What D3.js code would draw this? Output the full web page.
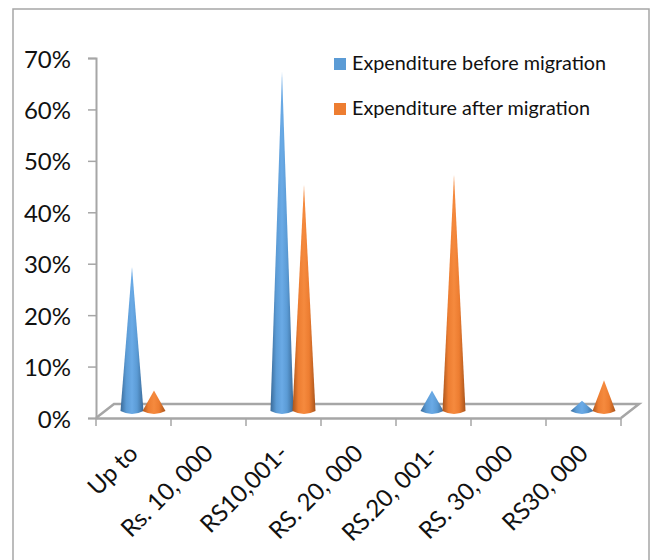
<!DOCTYPE html>
<html>
<head>
<meta charset="utf-8">
<script src="https://cdn.jsdelivr.net/npm/d3@7"></script>
<style>
html, body { margin: 0; padding: 0; background: #fff; }
text { font-family: Lato, "Open Sans", sans-serif; fill: #111; }
</style>
</head>
<body>
<div id="chart"></div>
<script>
var categories = ["Up to", "Rs. 10, 000", "RS10,001-", "RS. 20, 000", "RS.20, 001-", "RS. 30, 000", "RS30, 000"];
var seriesNames = ["Expenditure before migration", "Expenditure after migration"];
var before = [28, 0, 66, 0, 4, 0, 2];
var after = [4, 0, 44, 0, 46, 0, 6];
var yTicks = [0, 10, 20, 30, 40, 50, 60, 70];
var colors = ["#5b9bd5", "#ed7d31"];
var darks = ["#3a6a98", "#a8541c"];
var lights = ["#6aaae6", "#f58a3e"];

var width = 654, height = 560;
var axisGrey = "#a6a6a6";

var svg = d3.select("#chart").append("svg")
	.attr("width", width)
	.attr("height", height)
	.style("display", "block");

// outer chart frame, runs off the bottom of the picture
svg.append("rect")
	.attr("x", 13).attr("y", 9)
	.attr("width", 636).attr("height", 570)
	.attr("fill", "none")
	.attr("stroke", axisGrey)
	.attr("stroke-width", 1.5);

var x = d3.scaleBand().domain(categories).range([96, 621]);
var y = d3.scaleLinear().domain([0, 70]).range([418, 58]);

// 3d depth of the floor
var depthX = 18, depthY = 14;

//FLOOR
svg.append("path")
	.attr("d", "M96,418L" + (96 + depthX) + "," + (418 - depthY) + "L" + (621 + depthX) + "," + (418 - depthY) + "L621,418")
	.attr("fill", "none")
	.attr("stroke", axisGrey)
	.attr("stroke-width", 2.5);

//Y AXIS
var yAxis = d3.axisLeft(y)
	.tickValues(yTicks)
	.tickSize(8)
	.tickPadding(7)
	.tickFormat(function(d) { return d + "%"; });

var gy = svg.append("g").attr("transform", "translate(96,0)").call(yAxis);
gy.select(".domain").attr("stroke", axisGrey).attr("stroke-width", 2);
gy.selectAll("line").attr("stroke", axisGrey).attr("stroke-width", 1.5);
gy.selectAll("text").style("font-size", "24px").attr("x", -25).attr("dy", "0.38em");

//X AXIS
var xAxis = d3.axisBottom(x).tickSize(0).tickSizeOuter(0);
var gx = svg.append("g").attr("transform", "translate(0,418)").call(xAxis);
gx.select(".domain").attr("stroke", axisGrey).attr("stroke-width", 2.5);
gx.selectAll("text")
	.style("font-size", "24px")
	.attr("text-anchor", "end")
	.attr("dy", 0)
	.attr("y", 0)
	.attr("transform", "translate(6,37) rotate(-45)");

// tick marks sit on the band edges, not the centres
gx.selectAll(".edge")
	.data(categories.concat(["end"]))
	.enter().append("line")
	.attr("class", "edge")
	.attr("x1", function(d, i) { return 96 + i * x.step(); })
	.attr("x2", function(d, i) { return 96 + i * x.step(); })
	.attr("y1", 0)
	.attr("y2", 8)
	.attr("stroke", axisGrey)
	.attr("stroke-width", 1.5);

//GRADIENTS
var defs = svg.append("defs");
colors.forEach(function(c, i) {
	var g = defs.append("linearGradient")
		.attr("id", "cone" + i)
		.attr("x1", 0).attr("x2", 1).attr("y1", 0).attr("y2", 0);
	g.append("stop").attr("offset", "0%").attr("stop-color", darks[i]);
	g.append("stop").attr("offset", "25%").attr("stop-color", c);
	g.append("stop").attr("offset", "50%").attr("stop-color", lights[i]);
	g.append("stop").attr("offset", "72%").attr("stop-color", c);
	g.append("stop").attr("offset", "100%").attr("stop-color", darks[i]);
});

//CONES
var coneHalf = 11.5, coneRy = 3, coneOffset = 11, baseShift = 7;

function conePath(cat, value, side) {
	var cx = x(cat) + x.bandwidth() / 2 + depthX / 2 + 0.5 + side * coneOffset;
	var baseY = y(0) - baseShift;
	var p = d3.path();
	p.moveTo(cx - coneHalf, baseY);
	p.lineTo(cx, y(value) - baseShift);
	p.lineTo(cx + coneHalf, baseY);
	p.quadraticCurveTo(cx, baseY + 2 * coneRy, cx - coneHalf, baseY);
	p.closePath();
	return p.toString();
}

[before, after].forEach(function(values, s) {
	svg.append("g")
		.selectAll("path")
		.data(categories.filter(function(c, i) { return values[i] > 0; }))
		.enter().append("path")
		.attr("d", function(c) { return conePath(c, values[categories.indexOf(c)], s === 0 ? -1 : 1); })
		.attr("fill", "url(#cone" + s + ")");
});

//LEGEND
var legend = svg.append("g")
	.selectAll("g")
	.data(seriesNames)
	.enter().append("g")
	.attr("transform", function(d, i) { return "translate(334," + (58 + i * 45) + ")"; });

legend.append("rect")
	.attr("width", 12).attr("height", 12)
	.attr("fill", function(d, i) { return colors[i]; });

legend.append("text")
	.attr("x", 18).attr("y", 12)
	.style("font-size", "19.8px")
	.text(function(d) { return d; });
</script>
</body>
</html>
